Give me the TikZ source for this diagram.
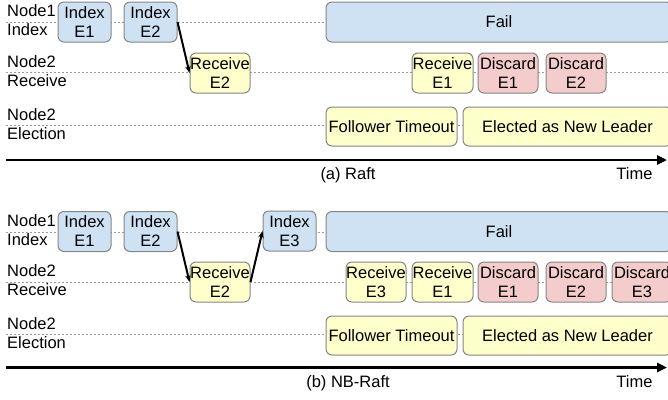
\documentclass[tikz,border=0pt]{standalone}
\usepackage{fontspec}
\setmainfont{Liberation Sans}
\usetikzlibrary{arrows.meta}
\definecolor{idxblue}{HTML}{CFE2F3}
\definecolor{rcvyellow}{HTML}{FFFFCC}
\definecolor{dscred}{HTML}{F4CCCC}
\definecolor{boxgray}{HTML}{858585}
\definecolor{laneGray}{HTML}{9A9A9A}
\begin{document}
\begin{tikzpicture}[x=1pt,y=-1pt,
  font=\fontsize{16.5}{19}\selectfont,
  evbox/.style={draw=boxgray, line width=1pt, rounded corners=6pt,
    inner sep=0pt, align=center, minimum height=40pt},
  idx/.style={evbox, fill=idxblue, minimum width=53pt},
  rcv/.style={evbox, fill=rcvyellow, minimum width=60pt},
  dsc/.style={evbox, fill=dscred, minimum width=60pt},
  lanelabel/.style={anchor=west, align=left, inner sep=0pt},
  lane/.style={draw=laneGray, line width=0.8pt, dash pattern=on 2pt off 2pt},
  msg/.style={draw=black, line width=2pt, -{Stealth[length=7pt,width=5.5pt]}},
  timeaxis/.style={draw=black, line width=2.8pt, -{Triangle[length=10pt,width=9pt]}},
  caption/.style={anchor=base, inner sep=0pt}]
\clip (0,0) rectangle (668,399);

% ---------------- (a) Raft ----------------
\coordinate (la1s) at (6,22);    \coordinate (la1e) at (668,22);
\coordinate (la2s) at (6,72.5);  \coordinate (la2e) at (668,72.5);
\coordinate (la3s) at (6,125.5); \coordinate (la3e) at (668,125.5);
\draw[lane] (la1s) -- (la1e);
\draw[lane] (la2s) -- (la2e);
\draw[lane] (la3s) -- (la3e);

\node[lanelabel] (lba1) at (7,20.5)  {Node1\\Index};
\node[lanelabel] (lba2) at (7,71)    {Node2\\Receive};
\node[lanelabel] (lba3) at (7,124)   {Node2\\Election};

\node[idx] (ia1) at (84.5,22)  {Index\\E1};
\node[idx] (ia2) at (150.5,22) {Index\\E2};
\node[evbox, fill=idxblue, minimum width=346pt] (faila) at (499,22) {Fail};

\node[rcv] (ra2) at (220,73)   {Receive\\E2};
\node[rcv, minimum width=61pt] (ra1) at (442.5,73) {Receive\\E1};
\node[dsc] (da1) at (508,73)   {Discard\\E1};
\node[dsc] (da2) at (576,73)   {Discard\\E2};

\node[evbox, fill=rcvyellow, minimum width=131pt, minimum height=39pt] (fta) at (391.5,126.5) {Follower Timeout};
\node[evbox, fill=rcvyellow, minimum width=209pt, minimum height=39pt] (ela) at (567.5,126.5) {Elected as New Leader};

\draw[msg] (ia2.east) -- (ra2.west);

\coordinate (axa0) at (6,160);
\coordinate (axa1) at (667,160);
\draw[timeaxis] (axa0) -- (axa1);
\node[caption] (capa) at (348,179) {(a) Raft};
\node[caption] (timea) at (634.5,179) {Time};

% ---------------- (b) NB-Raft ----------------
\coordinate (lb1s) at (6,232);   \coordinate (lb1e) at (668,232);
\coordinate (lb2s) at (6,282);   \coordinate (lb2e) at (668,282);
\coordinate (lb3s) at (6,334.5); \coordinate (lb3e) at (668,334.5);
\draw[lane] (lb1s) -- (lb1e);
\draw[lane] (lb2s) -- (lb2e);
\draw[lane] (lb3s) -- (lb3e);

\node[lanelabel] (lbb1) at (7,230)   {Node1\\Index};
\node[lanelabel] (lbb2) at (7,280.5) {Node2\\Receive};
\node[lanelabel] (lbb3) at (7,333)   {Node2\\Election};

\node[idx] (ib1) at (84.5,231.5)  {Index\\E1};
\node[idx] (ib2) at (150.5,231.5) {Index\\E2};
\node[idx] (ib3) at (289.5,231)   {Index\\E3};
\node[evbox, fill=idxblue, minimum width=346pt] (failb) at (499,231.5) {Fail};

\node[rcv] (rb2) at (220,282)   {Receive\\E2};
\node[rcv] (rb3) at (376,282)   {Receive\\E3};
\node[rcv, minimum width=61pt] (rb1) at (442.5,282) {Receive\\E1};
\node[dsc] (db1) at (508,282)   {Discard\\E1};
\node[dsc] (db2) at (576,282)   {Discard\\E2};
\node[dsc] (db3) at (642,282)   {Discard\\E3};

\node[evbox, fill=rcvyellow, minimum width=131pt, minimum height=39pt] (ftb) at (391.5,335.5) {Follower Timeout};
\node[evbox, fill=rcvyellow, minimum width=209pt, minimum height=39pt] (elb) at (567.5,335.5) {Elected as New Leader};

\draw[msg] (ib2.east) -- (rb2.west);
\draw[msg] (rb2.east) -- (ib3.west);

\coordinate (axb0) at (6,367.5);
\coordinate (axb1) at (667,367.5);
\draw[timeaxis] (axb0) -- (axb1);
\node[caption] (capb) at (348,387) {(b) NB-Raft};
\node[caption] (timeb) at (634.5,387) {Time};
\end{tikzpicture}
\end{document}
